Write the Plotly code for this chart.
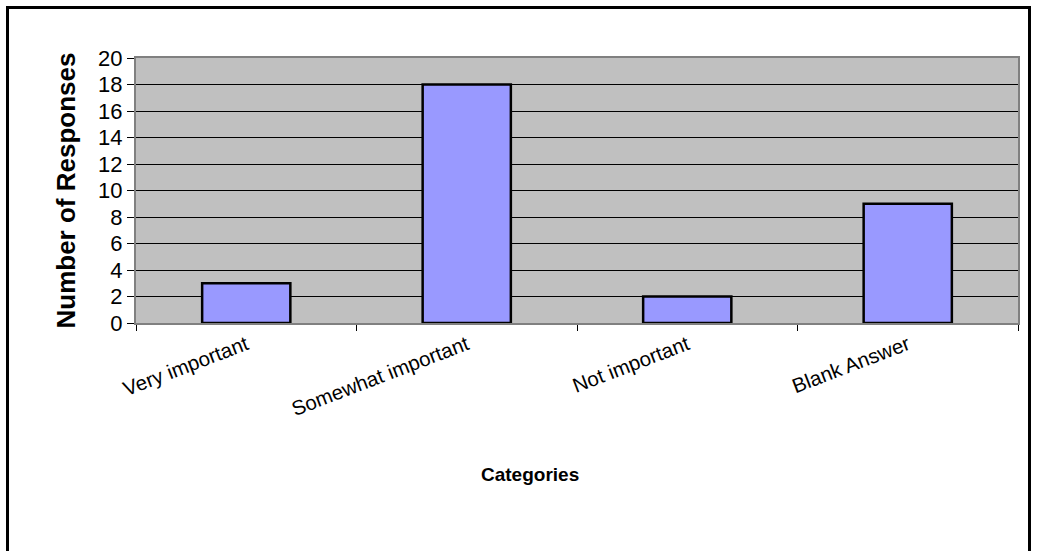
import plotly.graph_objects as go

categories = ["Very important", "Somewhat important", "Not important", "Blank Answer"]
responses = [3, 18, 2, 9]
y_ticks = [0, 2, 4, 6, 8, 10, 12, 14, 16, 18, 20]

W, H = 1037, 551
L, R, T, B = 136, 19, 58, 228
pw, ph = W - L - R, H - T - B

def px_x(x):
    return (x - L) / pw

def px_y(y):
    return (H - B - y) / ph

fig = go.Figure(go.Bar(
    x=categories, y=responses,
    marker=dict(color="#9999FF", line=dict(color="black", width=2.5)),
))

fig.update_layout(
    width=W, height=H,
    margin=dict(l=L, r=R, t=T, b=B),
    paper_bgcolor="white", plot_bgcolor="#C0C0C0",
    bargap=0.6, showlegend=False,
    font=dict(family="Liberation Sans, Arial", color="black"),
)
fig.update_xaxes(
    tickangle=-21, tickfont=dict(size=20.5),
    tickson="boundaries", ticks="outside", ticklen=6, tickcolor="black",
    showline=True, linecolor="#808080", linewidth=2, mirror=True,
    showgrid=False, automargin=False,
)
fig.update_yaxes(
    range=[0, 20], tickvals=y_ticks, tickfont=dict(size=22),
    ticks="outside", ticklen=7, tickcolor="black",
    showline=True, linecolor="#808080", linewidth=2, mirror=True,
    showgrid=True, gridcolor="black", gridwidth=1, zeroline=False,
    automargin=False,
)
fig.add_annotation(
    text="<b>Number of Responses</b>", textangle=-90,
    xref="paper", yref="paper", x=px_x(65), y=0.5,
    xanchor="center", yanchor="middle", showarrow=False,
    font=dict(size=26, color="black"),
)
fig.add_annotation(
    text="<b>Categories</b>",
    xref="paper", yref="paper", x=px_x(530), y=px_y(475),
    xanchor="center", yanchor="middle", showarrow=False,
    font=dict(size=19, color="black"),
)
fig.add_shape(
    type="rect", xref="paper", yref="paper",
    x0=px_x(7.5), x1=px_x(1029.5), y0=px_y(600), y1=px_y(7.5),
    line=dict(color="black", width=3), fillcolor="rgba(0,0,0,0)",
    layer="below",
)

fig.write_html("out.html", config={"displayModeBar": False},
               post_script="document.body.style.margin='0';")
